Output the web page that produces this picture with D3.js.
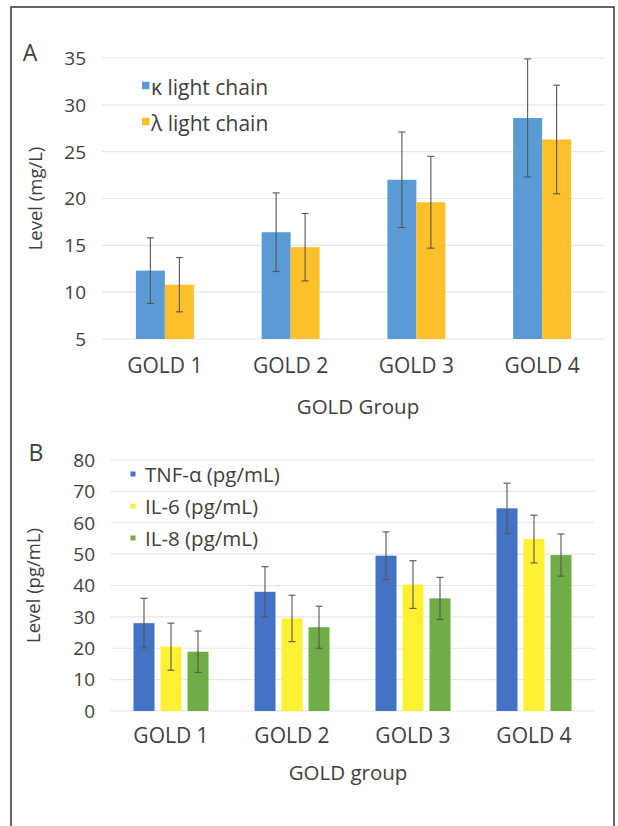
<!DOCTYPE html>
<html><head><meta charset="utf-8">
<script src="https://cdn.jsdelivr.net/npm/d3@7"></script>
<style>
body{margin:0;background:#fff;}
text{font-family:"Open Sans",Lato,sans-serif;fill:#404040;}
</style></head>
<body>
<svg id="c" width="618" height="826"></svg>
<script>
const groups = ["GOLD 1","GOLD 2","GOLD 3","GOLD 4"];
// Panel A
const seriesA = ["κ light chain","λ light chain"];
const kappaMean = [12.3, 16.4, 22.0, 28.6];
const kappaErr  = [3.5, 4.2, 5.1, 6.3];
const lambdaMean = [10.8, 14.8, 19.6, 26.3];
const lambdaErr  = [2.9, 3.6, 4.9, 5.8];
const ticksA = [5,10,15,20,25,30,35];
// Panel B
const seriesB = ["TNF-α (pg/mL)","IL-6 (pg/mL)","IL-8 (pg/mL)"];
const tnfMean = [28.0, 38.0, 49.5, 64.6];
const tnfErr  = [7.9, 8.0, 7.6, 8.0];
const il6Mean = [20.5, 29.5, 40.3, 54.8];
const il6Err  = [7.5, 7.4, 7.6, 7.6];
const il8Mean = [18.9, 26.7, 35.9, 49.7];
const il8Err  = [6.6, 6.7, 6.7, 6.7];
const ticksB = [0,10,20,30,40,50,60,70,80];

const svg = d3.select("#c");
svg.append("rect").attr("x",11).attr("y",7).attr("width",603).attr("height",830)
  .attr("fill","none").attr("stroke","#333").attr("stroke-width",1.5);

function panel(cfg){
  const g = svg.append("g");
  const y = d3.scaleLinear().domain(cfg.domain).range(cfg.yRange);
  const x0 = d3.scaleBand().domain(groups).range(cfg.xRange)
    .paddingInner(cfg.pOuter).paddingOuter(cfg.pOuter/2);
  const x1 = d3.scaleBand().domain(cfg.series).range([0,x0.bandwidth()]).paddingInner(cfg.pInner);
  g.selectAll(".grid").data(cfg.ticks).join("line")
    .attr("x1",cfg.xRange[0]).attr("x2",cfg.xRange[1])
    .attr("y1",d=>y(d)).attr("y2",d=>y(d))
    .attr("stroke","#e6e6e6").attr("stroke-width",1.2);
  g.selectAll(".tl").data(cfg.ticks).join("text")
    .attr("x",cfg.tickX).attr("y",d=>y(d)).attr("dy","0.36em")
    .attr("text-anchor","end").attr("font-size",19).text(d=>d);
  const data = [];
  groups.forEach((gr,i)=>cfg.series.forEach((s,j)=>data.push({gr,s,v:cfg.means[j][i],e:cfg.errs[j][i],c:cfg.colors[j]})));
  g.selectAll(".bar").data(data).join("rect")
    .attr("x",d=>x0(d.gr)+x1(d.s)).attr("width",x1.bandwidth())
    .attr("y",d=>y(d.v)).attr("height",d=>y(cfg.domain[0])-y(d.v))
    .attr("fill",d=>d.c);
  const eb = g.selectAll(".eb").data(data).join("g")
    .attr("transform",d=>`translate(${x0(d.gr)+x1(d.s)+x1.bandwidth()/2},0)`);
  eb.append("line").attr("y1",d=>y(d.v+d.e)).attr("y2",d=>y(d.v-d.e))
    .attr("stroke","#555").attr("stroke-width",1.1);
  eb.append("line").attr("x1",-3.5).attr("x2",3.5).attr("y1",d=>y(d.v+d.e)).attr("y2",d=>y(d.v+d.e))
    .attr("stroke","#555").attr("stroke-width",1.1);
  eb.append("line").attr("x1",-3.5).attr("x2",3.5).attr("y1",d=>y(d.v-d.e)).attr("y2",d=>y(d.v-d.e))
    .attr("stroke","#555").attr("stroke-width",1.1);
  g.selectAll(".xl").data(groups).join("text")
    .attr("x",d=>x0(d)+x0.bandwidth()/2).attr("y",cfg.xLabelY).attr("dy","0.36em")
    .attr("text-anchor","middle").attr("font-size",21).text(d=>d);
  g.append("text").attr("x",cfg.xTitleX).attr("y",cfg.xTitleY).attr("dy","0.36em")
    .attr("text-anchor","middle").attr("font-size",20.5).text(cfg.xTitle);
  g.append("text").attr("transform",`translate(${cfg.yTitleX},${(cfg.yRange[0]+cfg.yRange[1])/2}) rotate(-90)`)
    .attr("dy","0.36em").attr("text-anchor","middle").attr("font-size",18.5).text(cfg.yTitle);
  g.append("text").attr("x",cfg.letterX).attr("y",cfg.letterY).attr("dy","0.36em")
    .attr("text-anchor","middle").attr("font-size",23).text(cfg.letter);
  cfg.series.forEach((s,j)=>{
    const ly = cfg.legY[j];
    g.append("rect").attr("x",cfg.legX).attr("y",ly-cfg.legSq/2).attr("width",cfg.legSq).attr("height",cfg.legSq).attr("fill",cfg.colors[j]);
    g.append("text").attr("x",cfg.legTextX).attr("y",ly+cfg.legDy).attr("dy","0.36em")
      .attr("font-size",cfg.legFont).text(s);
  });
}

panel({series:seriesA, means:[kappaMean,lambdaMean], errs:[kappaErr,lambdaErr],
  colors:["#5b9bd5","#fcc02a"], domain:[5,35], yRange:[339,58], xRange:[102,605],
  pOuter:0.539, pInner:0, ticks:ticksA, tickX:86, xLabelY:365, xTitleX:358, xTitleY:407, xTitle:"GOLD Group",
  yTitle:"Level (mg/L)", yTitleX:35, letter:"A", letterX:30, letterY:53,
  legX:142, legSq:7.5, legTextX:151, legDy:2, legFont:21, legY:[85.5,121.5]});

panel({series:seriesB, means:[tnfMean,il6Mean,il8Mean], errs:[tnfErr,il6Err,il8Err],
  colors:["#4472c4","#fff033","#70ad47"], domain:[0,80], yRange:[711,460], xRange:[110.5,594.5],
  pOuter:0.38, pInner:0.222, ticks:ticksB, tickX:95, xLabelY:735, xTitleX:348, xTitleY:773, xTitle:"GOLD group",
  yTitle:"Level (pg/mL)", yTitleX:33, letter:"B", letterX:36, letterY:453,
  legX:130.5, legSq:5, legTextX:145, legDy:1, legFont:20.5, legY:[474,506,538]});
</script>
</body></html>
